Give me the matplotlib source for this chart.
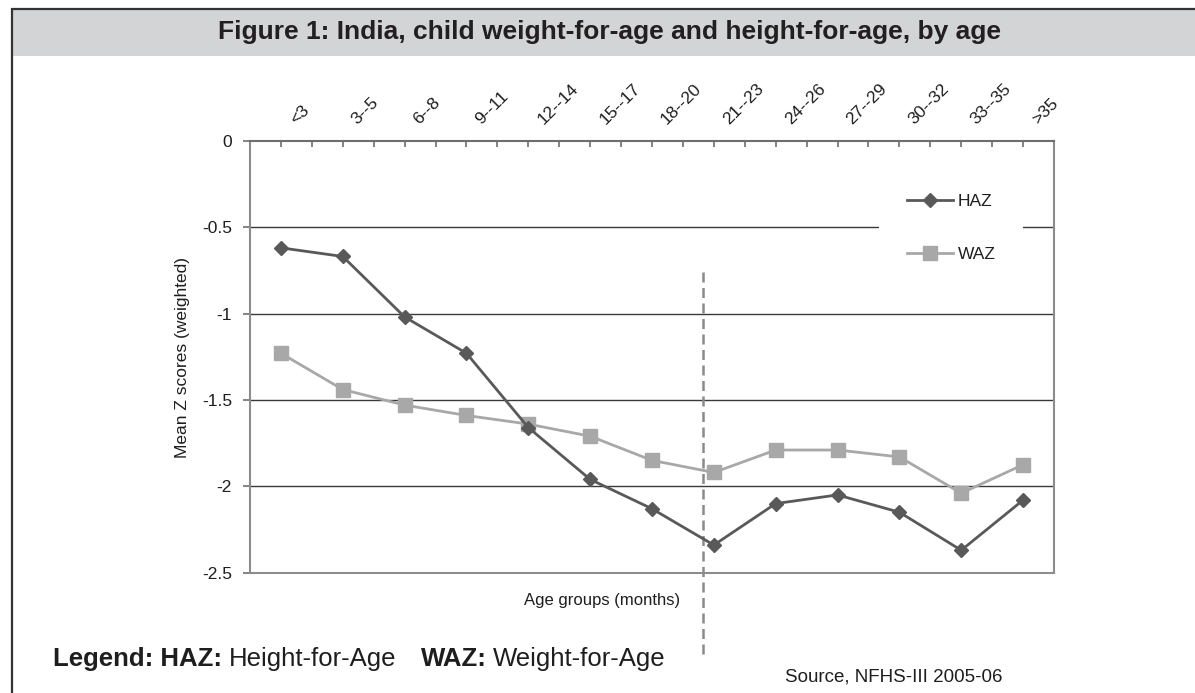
import matplotlib
matplotlib.use('Agg')
import matplotlib.pyplot as plt
from matplotlib.patches import Rectangle
from matplotlib import transforms

plt.rcParams['font.family'] = ['Liberation Sans', 'DejaVu Sans']
plt.rcParams['axes.unicode_minus'] = False

# data
age_groups = ['<3', '3--5', '6--8', '9--11', '12--14', '15--17', '18--20',
              '21--23', '24--26', '27--29', '30--32', '33--35', '>35']
haz = [-0.62, -0.67, -1.02, -1.23, -1.66, -1.96, -2.13,
       -2.34, -2.10, -2.05, -2.15, -2.37, -2.08]
waz = [-1.23, -1.44, -1.53, -1.59, -1.64, -1.71, -1.85,
       -1.92, -1.79, -1.79, -1.83, -2.04, -1.875]
y_ticks = [0, -0.5, -1, -1.5, -2, -2.5]
y_tick_labels = ['0', '-0.5', '-1', '-1.5', '-2', '-2.5']
cutoff_x = 6.82            # dashed marker just before 21--23
cutoff_y = (-0.76, -2.99)

W, H = 1195, 693
fig = plt.figure(figsize=(W / 100, H / 100), dpi=100)


def fx(px):
    return px / W


def fy(py):
    return 1 - py / H


TXT = '#1e1e1e'

# outer frame + grey title band
fig.patches.append(Rectangle((fx(12), fy(56)), 1.0, (56 - 9.5) / H, transform=fig.transFigure,
                             facecolor='#d3d4d6', edgecolor='none', zorder=0))
fig.patches.append(Rectangle((fx(12), fy(720)), 1.0, (720 - 9.5) / H, transform=fig.transFigure,
                             facecolor='none', edgecolor='#333333', lw=1.6, zorder=1))
fig.text(fx(609), fy(39.5), 'Figure 1: India, child weight-for-age and height-for-age, by age',
         ha='center', va='baseline', fontsize=19, fontweight='bold', color='#231f20')

ax = fig.add_axes([fx(250), fy(572.7), (1054 - 250) / W, (572.7 - 140.7) / H])
x = list(range(len(age_groups)))

ax.plot(x, haz, color='#595959', lw=2.0, marker='D', ms=7.2, zorder=4, label='HAZ')
ax.plot(x, waz, color='#a8a8a8', lw=2.0, marker='s', ms=9.5, zorder=3, label='WAZ')

ax.set_xlim(-0.5, len(age_groups) - 0.5)
ax.set_ylim(-2.5, 0)

# gridlines
for yv in y_ticks[1:-1]:
    ax.axhline(yv, color='#3a3a3a', lw=1.0, zorder=1)

for side in ['left', 'right', 'bottom']:
    ax.spines[side].set_color('#8c8c8c')
    ax.spines[side].set_linewidth(1.5)
ax.spines['top'].set_color('#6e6e6e')
ax.spines['top'].set_linewidth(1.5)

ax.set_yticks(y_ticks)
ax.set_yticklabels(y_tick_labels)
ax.tick_params(axis='y', direction='out', length=5, width=1.2, color='#6e6e6e',
               labelsize=12.5, labelcolor=TXT, pad=8)

ax.set_xticks(x)
ax.set_xticks([i - 0.5 for i in x][1:] + [len(x) - 0.5], minor=True)
ax.tick_params(axis='x', which='both', top=True, bottom=False, labeltop=False,
               labelbottom=False, direction='in', length=4, width=1.2, color='#6e6e6e')

# rotated category labels above the top axis
off = transforms.ScaledTranslation(0.15, 0.16, fig.dpi_scale_trans)
for i, lab in enumerate(age_groups):
    ax.text(i, 1.0, lab, transform=ax.get_xaxis_transform() + off, rotation=45,
            rotation_mode='anchor', ha='left', va='baseline', fontsize=12.5, color=TXT)

# dashed vertical marker
ax.plot([cutoff_x, cutoff_x], list(cutoff_y), color='#8a8a8a', lw=1.8,
        ls=(0, (4.0, 2.2)), clip_on=False, zorder=2)

leg = ax.legend(loc='center', bbox_to_anchor=(0.872, 0.798), fontsize=12.5,
                handlelength=2.7, handletextpad=0.25, labelspacing=2.2,
                borderpad=1.6, frameon=True, fancybox=False)
leg.get_frame().set_facecolor('white')
leg.get_frame().set_edgecolor('none')
leg.get_frame().set_alpha(1)
for t in leg.get_texts():
    t.set_color(TXT)

fig.text(fx(183), fy(358), 'Mean Z scores (weighted)', rotation=90, ha='center', va='center',
         fontsize=12.5, color=TXT)
fig.text(fx(602), fy(600), 'Age groups (months)', ha='center', va='center', fontsize=12, color=TXT)
fig.text(fx(785), fy(681), 'Source, NFHS-III 2005-06', ha='left', va='baseline',
         fontsize=13.5, color=TXT)

# bottom legend line with mixed weights
r = fig.canvas.get_renderer()
pieces = [('Legend: HAZ:', 'bold', 0), ('Height-for-Age', 'normal', 7),
          ('WAZ:', 'bold', 24), ('Weight-for-Age', 'normal', 7)]
xpos = 53
for s, wt, gap in pieces:
    xpos += gap
    t = fig.text(fx(xpos), fy(666), s, ha='left', va='baseline', fontsize=18.5,
                 fontweight=wt, color=TXT)
    xpos = t.get_window_extent(r).x1

fig.savefig('out.png', dpi=100)
